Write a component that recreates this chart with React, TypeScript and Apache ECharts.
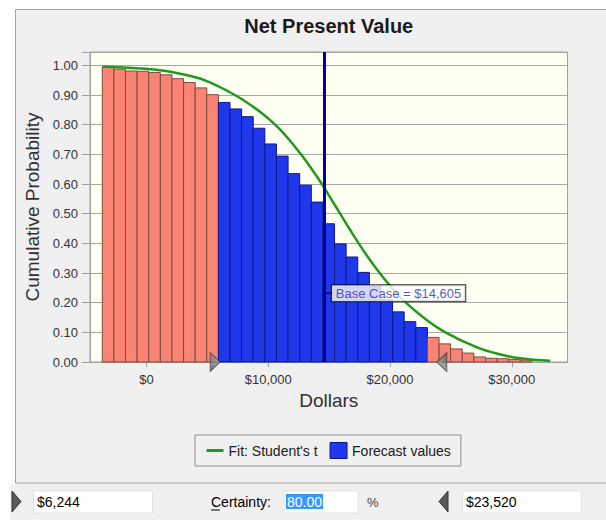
import React, { useEffect, useRef } from 'react';
import * as echarts from 'echarts';

const TITLE = 'Net Present Value';
const X_NAME = 'Dollars';
const Y_NAME = 'Cumulative Probability';
const LINE_NAME = "Fit: Student's t";
const BAR_NAME = 'Forecast values';

const X_MIN = -4650;
const X_MAX = 34580;
const Y_MAX = 1.045;
const X_TICKS = [0, 10000, 20000, 30000];

const BIN_START = -3640;
const BIN_WIDTH = 954;
const BAR_VALUES = [
  0.996, 0.987, 0.981, 0.98, 0.976, 0.968, 0.955, 0.942, 0.924, 0.901,
  0.875, 0.853, 0.827, 0.788, 0.735, 0.694, 0.635, 0.596, 0.539, 0.466,
  0.398, 0.354, 0.302, 0.255, 0.21, 0.169, 0.136, 0.116,
  0.083, 0.061, 0.044, 0.03, 0.017, 0.0125, 0.011, 0.009, 0.0067,
];

const CURVE_X = [
  -3570, 800, 2950, 4750, 7250, 9100, 10560, 11700, 12680, 13580, 14400, 15150,
  15900, 16650, 17420, 18250, 19150, 20150, 21300, 22750, 24550, 27100, 29000,
  30700, 33150,
];
const CURVE_Y = [
  0.996, 0.985, 0.97, 0.95, 0.9, 0.85, 0.8, 0.75, 0.7, 0.65, 0.6, 0.55,
  0.5, 0.45, 0.4, 0.35, 0.3, 0.25, 0.2, 0.15, 0.1, 0.05, 0.026,
  0.0125, 0.004,
];

const CERT_LOW = 6244;
const CERT_HIGH = 23520;
const CERTAINTY = '80.00';
const BASE_CASE = 14605;
const BASE_LABEL_Y = 0.232;

const FONT = '"Liberation Sans", Arial, sans-serif';
const BLUE = '#1f38ec';
const BLUE_EDGE = '#0c1a86';
const SALMON = '#fa8474';
const SALMON_EDGE = '#7c4a44';
const GREEN = '#1f9a1f';

const fmtMoney = (v: number) => '$' + Math.round(v).toLocaleString('en-US');

export default function App() {
  const ref = useRef<HTMLDivElement>(null);
  useEffect(() => {
    const chart = echarts.init(ref.current!, null, { renderer: 'svg' });

    const barData = BAR_VALUES.map((v, i) => {
      const x0 = BIN_START + i * BIN_WIDTH;
      const x1 = x0 + BIN_WIDTH;
      const c = (x0 + x1) / 2;
      return [x0, x1, v, c >= CERT_LOW && c <= CERT_HIGH ? 1 : 0];
    });
    const curveData = CURVE_X.map((x, i) => [x, CURVE_Y[i]]);

    const triGrad = new echarts.graphic.LinearGradient(0, 0, 1, 1, [
      { offset: 0, color: '#b8b8b8' },
      { offset: 1, color: '#585858' },
    ]);

    const option: any = {
      animation: false,
      backgroundColor: '#f0f0f0',
      textStyle: { fontFamily: FONT },
      title: {
        text: TITLE,
        left: 323.75,
        textAlign: 'center',
        top: 11,
        textStyle: { fontFamily: FONT, fontSize: 20, fontWeight: 'bold', color: '#1a1a1a' },
      },
      legend: {
        left: 195,
        top: 435,
        padding: [7, 10, 7, 10],
        itemGap: 12,
        itemWidth: 17,
        itemHeight: 16,
        borderColor: '#8c8c8c',
        borderWidth: 1,
        backgroundColor: '#f0f0f0',
        selectedMode: false,
        textStyle: { fontFamily: FONT, fontSize: 14, color: '#202020' },
        data: [
          {
            name: LINE_NAME,
            itemStyle: { color: 'rgba(0,0,0,0)', borderColor: 'rgba(0,0,0,0)', borderWidth: 0 },
            lineStyle: { color: GREEN, width: 3 },
          },
          { name: BAR_NAME, icon: 'rect', itemStyle: { color: BLUE, borderColor: BLUE_EDGE, borderWidth: 1 } },
        ],
      },
      grid: {
        left: 90,
        right: 38.5,
        top: 52,
        bottom: 158,
        show: true,
        backgroundColor: '#fffff2',
        borderColor: '#a0a0a0',
        borderWidth: 1,
      },
      xAxis: {
        type: 'value',
        min: X_MIN,
        max: X_MAX,
        name: X_NAME,
        nameLocation: 'middle',
        nameGap: 29,
        nameTextStyle: { fontFamily: FONT, fontSize: 19, color: '#303030' },
        axisLine: { show: true, onZero: false, lineStyle: { color: '#a0a0a0' } },
        axisTick: { show: true, inside: false, length: 5, customValues: X_TICKS, lineStyle: { color: '#a0a0a0' } },
        axisLabel: {
          customValues: X_TICKS,
          margin: 11,
          fontFamily: FONT,
          fontSize: 13,
          color: '#333',
          formatter: (v: number) => fmtMoney(v),
        },
        splitLine: { show: false },
      },
      yAxis: {
        type: 'value',
        min: 0,
        max: Y_MAX,
        interval: 0.1,
        name: Y_NAME,
        nameLocation: 'middle',
        nameGap: 44,
        nameTextStyle: { fontFamily: FONT, fontSize: 19, color: '#303030' },
        axisLine: { show: true, onZero: false, lineStyle: { color: '#a0a0a0' } },
        axisTick: { show: true, inside: false, length: 8, lineStyle: { color: '#a0a0a0' } },
        axisLabel: {
          margin: 12,
          fontFamily: FONT,
          fontSize: 13,
          color: '#333',
          formatter: (v: number) => (v > 1.001 ? '' : v.toFixed(2)),
        },
        splitLine: { show: true, lineStyle: { color: '#a8a8a8', width: 1 } },
      },
      series: [
        {
          type: 'custom',
          name: BAR_NAME,
          z: 2,
          itemStyle: { color: BLUE },
          encode: { x: [0, 1], y: 2 },
          data: barData,
          renderItem: (params: any, api: any) => {
            const x0 = api.value(0);
            const x1 = api.value(1);
            const v = api.value(2);
            const inside = api.value(3) === 1;
            const p0 = api.coord([x0, v]);
            const p1 = api.coord([x1, 0]);
            return {
              type: 'rect',
              shape: { x: p0[0], y: p0[1], width: p1[0] - p0[0], height: p1[1] - p0[1] },
              style: {
                fill: inside ? BLUE : SALMON,
                stroke: inside ? BLUE_EDGE : SALMON_EDGE,
                lineWidth: 1,
              },
            };
          },
        },
        {
          type: 'line',
          name: LINE_NAME,
          z: 3,
          data: curveData,
          smooth: 0.4,
          symbol: 'none',
          color: GREEN,
          lineStyle: { color: GREEN, width: 2.5 },
        },
        {
          type: 'scatter',
          name: 'base',
          z: 5,
          clip: false,
          silent: true,
          data: [[BASE_CASE, BASE_LABEL_Y]],
          symbol: 'rect',
          symbolSize: [7, 1.5],
          symbolOffset: [4, 0],
          itemStyle: { color: '#000' },
          label: {
            show: true,
            position: 'right',
            distance: 0,
            formatter: () => 'Base Case = ' + fmtMoney(BASE_CASE),
            fontFamily: FONT,
            fontSize: 13,
            color: '#2a2aa8',
            backgroundColor: '#ffffff',
            borderColor: '#000',
            borderWidth: 1,
            padding: [2, 4, 1, 4],
          },
          markLine: {
            silent: true,
            symbol: ['none', 'none'],
            label: { show: false },
            lineStyle: { color: '#0000a0', width: 3, type: 'solid' },
            data: [{ xAxis: BASE_CASE }],
          },
        },
        {
          type: 'scatter',
          name: 'certainty',
          z: 6,
          clip: false,
          silent: true,
          symbol: 'triangle',
          symbolSize: [19, 10],
          itemStyle: { color: triGrad, borderColor: '#3a3a3a', borderWidth: 1 },
          data: [
            { value: [CERT_LOW, 0], symbolRotate: -90, symbolOffset: [-7.5, 0] },
            { value: [CERT_HIGH, 0], symbolRotate: 90, symbolOffset: [9, 0] },
          ],
        },
      ],
      graphic: [
        { type: 'rect', shape: { x: 0, y: 0, width: 606, height: 9 }, style: { fill: '#ffffff' }, silent: true },
        { type: 'rect', shape: { x: 0, y: 0, width: 15, height: 484 }, style: { fill: '#ffffff' }, silent: true },
        { type: 'rect', shape: { x: 0, y: 484, width: 10, height: 36 }, style: { fill: '#ffffff' }, silent: true },
        {
          type: 'rect',
          shape: { x: 15.5, y: 9.5, width: 640, height: 473.5 },
          style: { fill: 'none', stroke: '#a3a3a3', lineWidth: 1 },
          silent: true,
        },
        {
          type: 'polygon',
          shape: { points: [[12, 491], [21, 501.5], [12, 512]] },
          style: { fill: '#5a5a5a', stroke: '#333', lineWidth: 1 },
          silent: true,
        },
        {
          type: 'rect',
          shape: { x: 33.5, y: 491, width: 119, height: 22 },
          style: { fill: '#ffffff', stroke: '#e2e2e2', lineWidth: 1 },
          silent: true,
        },
        {
          type: 'text',
          x: 37,
          y: 502,
          style: { text: fmtMoney(CERT_LOW), font: '14px ' + FONT, fill: '#000', textVerticalAlign: 'middle' },
          silent: true,
        },
        {
          type: 'text',
          x: 211,
          y: 502,
          style: { text: 'Certainty:', font: '14px ' + FONT, fill: '#000', textVerticalAlign: 'middle' },
          silent: true,
        },
        { type: 'line', shape: { x1: 211, y1: 510, x2: 220, y2: 510 }, style: { stroke: '#000', lineWidth: 1 }, silent: true },
        {
          type: 'rect',
          shape: { x: 284, y: 491, width: 74, height: 22 },
          style: { fill: '#ffffff', stroke: '#e2e2e2', lineWidth: 1 },
          silent: true,
        },
        { type: 'rect', shape: { x: 286, y: 494, width: 37, height: 15 }, style: { fill: '#3399ff' }, silent: true },
        {
          type: 'text',
          x: 287,
          y: 502,
          style: { text: CERTAINTY, font: '14px ' + FONT, fill: '#ffffff', textVerticalAlign: 'middle' },
          silent: true,
        },
        {
          type: 'text',
          x: 367,
          y: 502,
          style: { text: '%', font: '13px ' + FONT, fill: '#404040', textVerticalAlign: 'middle' },
          silent: true,
        },
        {
          type: 'polygon',
          shape: { points: [[448, 491], [439, 501.5], [448, 512]] },
          style: { fill: '#5a5a5a', stroke: '#333', lineWidth: 1 },
          silent: true,
        },
        {
          type: 'rect',
          shape: { x: 462.5, y: 491, width: 119, height: 22 },
          style: { fill: '#ffffff', stroke: '#e2e2e2', lineWidth: 1 },
          silent: true,
        },
        {
          type: 'text',
          x: 466,
          y: 502,
          style: { text: fmtMoney(CERT_HIGH), font: '14px ' + FONT, fill: '#000', textVerticalAlign: 'middle' },
          silent: true,
        },
      ],
    };

    chart.setOption(option);
    return () => chart.dispose();
  }, []);

  return (
    <div
      ref={ref}
      style={{ position: 'fixed', left: 0, top: 0, width: 606, height: 520 }}
    />
  );
}
